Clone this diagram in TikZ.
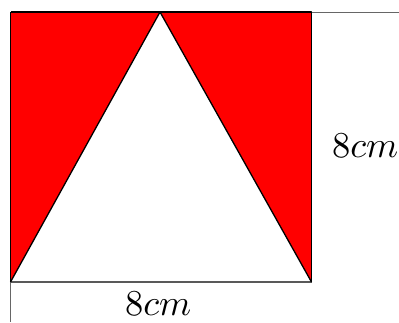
\documentclass[tikz,border=0pt]{standalone}
\begin{document}
\begin{tikzpicture}[x=1pt,y=-1pt,
  lbl/.style={inner sep=0pt},
  edge/.style={draw=black,line width=1.3pt,line join=round},
  frame/.style={draw=black!60,line width=1pt}]
\useasboundingbox (0,0) rectangle (399,322);
\coordinate (TL) at (10.5,12);
\coordinate (TR) at (311.5,12);
\coordinate (BL) at (10.5,282);
\coordinate (BR) at (311.5,282);
\coordinate (AP) at (160,12);
\coordinate (FR) at (399,12);
\coordinate (FB) at (10.5,322);
\fill[red] (TL) -- (AP) -- (BL) -- cycle;
\fill[red] (AP) -- (TR) -- (BR) -- cycle;
\draw[frame] (FR) -- (TL) -- (FB);
\draw[draw=black!65,line width=1.8pt] (BL) -- (BR);
\draw[edge] (TL) -- (TR) -- (BR);
\draw[edge] (BL) -- (TL);
\draw[edge] (BL) -- (AP) -- (BR);
\node[lbl,anchor=south west] (r) at (332,158) {\scalebox{3.65}{$8cm$}};
\node[lbl,anchor=south west] (b) at (125,316) {\scalebox{3.65}{$8cm$}};
\end{tikzpicture}
\end{document}
